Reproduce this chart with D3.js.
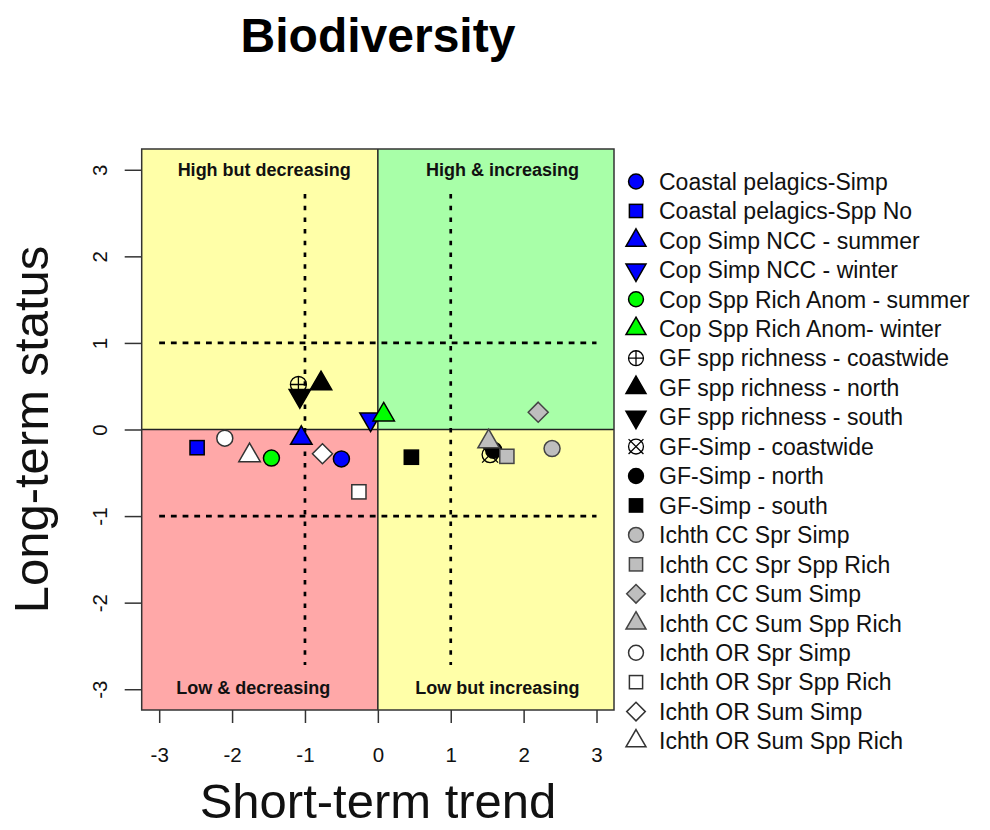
<!DOCTYPE html>
<html>
<head>
<meta charset="utf-8">
<script src="https://cdn.jsdelivr.net/npm/d3@7"></script>
<style>
  html, body { margin: 0; padding: 0; background: #fff; }
  svg { display: block; font-family: "Liberation Sans", Arial, Helvetica, sans-serif; }
</style>
</head>
<body>
<svg id="chart" width="990" height="830"></svg>
<script>
// ---------- data ----------
const seriesNames = [
  "Coastal pelagics-Simp",
  "Coastal pelagics-Spp No",
  "Cop Simp NCC - summer",
  "Cop Simp NCC - winter",
  "Cop Spp Rich Anom - summer",
  "Cop Spp Rich Anom- winter",
  "GF spp richness - coastwide",
  "GF spp richness - north",
  "GF spp richness - south",
  "GF-Simp - coastwide",
  "GF-Simp - north",
  "GF-Simp - south",
  "Ichth CC Spr Simp",
  "Ichth CC Spr Spp Rich",
  "Ichth CC Sum Simp",
  "Ichth CC Sum Spp Rich",
  "Ichth OR Spr Simp",
  "Ichth OR Spr Spp Rich",
  "Ichth OR Sum Simp",
  "Ichth OR Sum Spp Rich"
];
const shortTermTrend = [-0.50, -2.48, -1.05, -0.10, -1.46, 0.08, -1.09, -0.78, -1.07, 1.54,
                         1.59, 0.46, 2.39, 1.77, 2.20, 1.52, -2.10, -0.26, -0.76, -1.76];
const longTermStatus = [-0.34, -0.21, -0.10, 0.12, -0.33, 0.17, 0.52, 0.53, 0.39, -0.29,
                        -0.24, -0.32, -0.22, -0.31, 0.20, -0.14, -0.10, -0.72, -0.28, -0.30];
const markerShapes = ["circle", "square", "triUp", "triDown", "circle", "triUp", "circlePlus", "triUp", "triDown", "circleX",
                      "circle", "square", "circle", "square", "diamond", "triUp", "circle", "square", "diamond", "triUp"];
const markerFills = ["#0000FF", "#0000FF", "#0000FF", "#0000FF", "#00FF00", "#00FF00", "none", "#000000", "#000000", "none",
                     "#000000", "#000000", "#BEBEBE", "#BEBEBE", "#BEBEBE", "#BEBEBE", "#FFFFFF", "#FFFFFF", "#FFFFFF", "#FFFFFF"];
const markerStrokes = ["#000", "#000", "#000", "#000", "#000", "#000", "#000", "#000", "#000", "#000",
                       "#000", "#000", "#444", "#444", "#444", "#444", "#333", "#333", "#333", "#333"];
const tickValues = [-3, -2, -1, 0, 1, 2, 3];
const quadrantLabels = ["High but decreasing", "High & increasing", "Low & decreasing", "Low but increasing"];
const quadrantLabelX = [-1.56, 1.71, -1.71, 1.64];
const quadrantLabelY = [2.93, 2.93, -3.06, -3.06];

// ---------- layout ----------
const svg = d3.select("#chart");
const lim = 3.24;
const x = d3.scaleLinear().domain([-lim, lim]).range([141.7, 614]);
const y = d3.scaleLinear().domain([-lim, lim]).range([710, 149]);

// quadrant fills
const quads = [
  { x0: -lim, x1: 0, y0: 0, y1: lim, c: "#FFFFA8" },
  { x0: 0, x1: lim, y0: 0, y1: lim, c: "#A8FFA8" },
  { x0: -lim, x1: 0, y0: -lim, y1: 0, c: "#FFA8A8" },
  { x0: 0, x1: lim, y0: -lim, y1: 0, c: "#FFFFA8" }
];
svg.append("g").selectAll("rect").data(quads).join("rect")
  .attr("x", d => x(d.x0)).attr("y", d => y(d.y1))
  .attr("width", d => x(d.x1) - x(d.x0)).attr("height", d => y(d.y0) - y(d.y1))
  .attr("fill", d => d.c);

// mid lines
svg.append("line").attr("x1", x(0)).attr("x2", x(0)).attr("y1", y(lim)).attr("y2", y(-lim))
  .attr("stroke", "#222").attr("stroke-width", 1.5);
svg.append("line").attr("x1", x(-lim)).attr("x2", x(lim)).attr("y1", y(0)).attr("y2", y(0))
  .attr("stroke", "#222").attr("stroke-width", 1.5);

// box
svg.append("rect").attr("x", x(-lim)).attr("y", y(lim))
  .attr("width", x(lim) - x(-lim)).attr("height", y(-lim) - y(lim))
  .attr("fill", "none").attr("stroke", "#333").attr("stroke-width", 1.5);

// dotted reference lines
const refLines = [
  { x1: -3, y1: 1, x2: 3, y2: 1 },
  { x1: -3, y1: -1, x2: 3, y2: -1 },
  { x1: -1, y1: 2.72, x2: -1, y2: -2.72 },
  { x1: 1, y1: 2.72, x2: 1, y2: -2.72 }
];
svg.append("g").selectAll("line").data(refLines).join("line")
  .attr("x1", d => x(d.x1)).attr("x2", d => x(d.x2))
  .attr("y1", d => y(d.y1)).attr("y2", d => y(d.y2))
  .attr("stroke", "#000").attr("stroke-width", 2.7)
  .attr("stroke-dasharray", d => d.x1 === d.x2 ? "4.5,7.2" : "5.8,5.9");

// quadrant labels
svg.append("g").selectAll("text").data(quadrantLabels).join("text")
  .attr("x", (d, i) => x(quadrantLabelX[i]))
  .attr("y", (d, i) => y(quadrantLabelY[i]))
  .attr("text-anchor", "middle").attr("font-weight", "bold").attr("font-size", 18)
  .attr("fill", "#111")
  .text(d => d);

// axes
const fmt = d => String(d);
const xAxis = d3.axisBottom(x).tickValues(tickValues).tickSize(13).tickPadding(24).tickFormat(fmt);
const gx = svg.append("g").attr("transform", `translate(0,${y(-lim)})`).call(xAxis);
gx.select(".domain").remove();
gx.selectAll(".tick line").attr("stroke", "#333").attr("stroke-width", 1.5);
gx.selectAll(".tick text").attr("font-size", 20.5).attr("fill", "#111")
  .style("font-family", "Liberation Sans, Arial, sans-serif");

const yAxis = d3.axisLeft(y).tickValues(tickValues).tickSize(17).tickPadding(0).tickFormat(fmt);
const gy = svg.append("g").attr("transform", `translate(${x(-lim)},0)`).call(yAxis);
gy.select(".domain").remove();
gy.selectAll(".tick line").attr("stroke", "#333").attr("stroke-width", 1.5);
gy.selectAll(".tick text").attr("font-size", 20.5).attr("fill", "#111")
  .style("font-family", "Liberation Sans, Arial, sans-serif")
  .attr("x", null).attr("dy", null)
  .attr("text-anchor", "middle")
  .attr("transform", "translate(-42,0) rotate(-90) translate(0,7.5)");

// titles
svg.append("text").attr("x", 378).attr("y", 52).attr("text-anchor", "middle")
  .attr("font-weight", "bold").attr("font-size", 48).attr("fill", "#000").text("Biodiversity");
svg.append("text").attr("x", 378).attr("y", 818).attr("text-anchor", "middle")
  .attr("font-size", 49).attr("fill", "#111").text("Short-term trend");
svg.append("text").attr("transform", `translate(48,${y(0)}) rotate(-90)`).attr("text-anchor", "middle")
  .attr("font-size", 49).attr("fill", "#111").text("Long-term status");

// ---------- markers ----------
function drawMarker(g, shape, fill, stroke, s) {
  const r = 8 * s;
  if (shape === "circle") {
    g.append("circle").attr("r", r).attr("fill", fill).attr("stroke", stroke).attr("stroke-width", 1.5);
  } else if (shape === "square") {
    const h = 7.1 * s;
    g.append("rect").attr("x", -h).attr("y", -h).attr("width", 2 * h).attr("height", 2 * h)
      .attr("fill", fill).attr("stroke", stroke).attr("stroke-width", 1.5);
  } else if (shape === "diamond") {
    const h = 10 * s;
    g.append("path").attr("d", `M0,${-h}L${h},0L0,${h}L${-h},0Z`)
      .attr("fill", fill).attr("stroke", stroke).attr("stroke-width", 1.5);
  } else if (shape === "triUp" || shape === "triDown") {
    const tr = 12.4 * s, xc = tr * Math.sqrt(3) / 2, yc = tr / 2;
    const sg = shape === "triUp" ? 1 : -1;
    g.append("path").attr("d", `M0,${-sg * tr}L${xc},${sg * yc}L${-xc},${sg * yc}Z`)
      .attr("fill", fill).attr("stroke", stroke).attr("stroke-width", 1.5).attr("stroke-linejoin", "miter");
  } else if (shape === "circlePlus") {
    g.append("circle").attr("r", r).attr("fill", "none").attr("stroke", stroke).attr("stroke-width", 1.3);
    g.append("path").attr("d", `M${-r},0H${r}M0,${-r}V${r}`).attr("stroke", stroke).attr("stroke-width", 1.3);
  } else if (shape === "circleX") {
    g.append("circle").attr("r", r).attr("fill", "none").attr("stroke", stroke).attr("stroke-width", 1.3);
    g.append("path").attr("d", `M${-r},${-r}L${r},${r}M${-r},${r}L${r},${-r}`).attr("stroke", stroke).attr("stroke-width", 1.3);
  }
}

const pts = svg.append("g");
seriesNames.forEach((name, i) => {
  const g = pts.append("g").attr("transform", `translate(${x(shortTermTrend[i])},${y(longTermStatus[i])})`);
  drawMarker(g, markerShapes[i], markerFills[i], markerStrokes[i], 1);
});

// ---------- legend ----------
const legend = svg.append("g");
const legY0 = 181.5, legStep = 29.45;
seriesNames.forEach((name, i) => {
  const yy = legY0 + i * legStep;
  const g = legend.append("g").attr("transform", `translate(636,${yy})`);
  drawMarker(g, markerShapes[i], markerFills[i], markerStrokes[i], 0.93);
  legend.append("text").attr("x", 659).attr("y", yy).attr("dy", "0.36em")
    .attr("font-size", 23).attr("fill", "#111").text(name);
});
</script>
</body>
</html>
